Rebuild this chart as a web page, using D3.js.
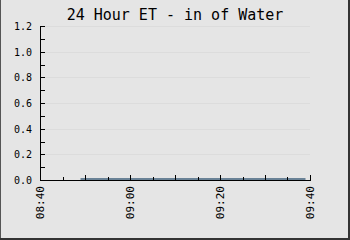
<!DOCTYPE html>
<html><head><meta charset="utf-8">
<script src="https://cdn.jsdelivr.net/npm/d3@7"></script>
<style>body{margin:0;padding:0;background:#fff}svg{display:block}</style>
</head><body>
<svg id="c" width="350" height="240"></svg>
<script>
const title = "24 Hour ET - in of Water";
const times = ["08:49","08:54","08:59","09:04","09:09","09:14","09:19","09:24","09:29","09:34","09:39"];
const etValues = [0,0,0,0,0,0,0,0,0,0,0];
const yTicks = [0.0,0.2,0.4,0.6,0.8,1.0,1.2];
const yMinorTicks = [0.1,0.3,0.5,0.7,0.9,1.1];
const xTickLabels = ["08:40","09:00","09:20","09:40"];
const xMajorTicks = ["08:50","09:00","09:10","09:20","09:30","09:40"];
const xMinorTicks = ["08:45","08:55","09:05","09:15","09:25","09:35"];

(function(){
const parse = d3.timeParse("%H:%M");
const svg = d3.select("#c");
const W = 350, H = 240;
const pl = 40, pr = 310, pt = 26, pb = 180;

svg.append("rect").attr("width", W).attr("height", H).attr("fill", "#e5e5e5");
svg.append("rect").attr("x", 0).attr("y", 0).attr("width", 1).attr("height", H).attr("fill", "#555");
svg.append("rect").attr("x", W-2).attr("y", 0).attr("width", 2).attr("height", H).attr("fill", "#333");
svg.append("rect").attr("x", 0).attr("y", H-2).attr("width", W).attr("height", 2).attr("fill", "#333");

const x = d3.scaleTime().domain([parse("08:40"), parse("09:40")]).range([pl, pr]);
const y = d3.scaleLinear().domain([0, 1.2]).range([pb, pt]);

const font = "'DejaVu Sans Mono', monospace";

svg.append("g").selectAll("line").data(yTicks.filter(d => d > 0)).join("line")
  .attr("x1", pl).attr("x2", pr)
  .attr("y1", d => Math.round(y(d)) + 0.5).attr("y2", d => Math.round(y(d)) + 0.5)
  .attr("stroke", "#dcdcdc").attr("stroke-width", 1);

const line = d3.line().x((d, i) => x(parse(times[i]))).y(d => y(d) - 1);
svg.append("path").datum(etValues).attr("d", line)
  .attr("fill", "none").attr("stroke", "#6a8296").attr("stroke-width", 2);

svg.append("line").attr("x1", pl + 0.5).attr("x2", pl + 0.5).attr("y1", pt).attr("y2", pb + 1)
  .attr("stroke", "#000").attr("stroke-width", 1);
svg.append("line").attr("x1", pl).attr("x2", pr + 1).attr("y1", pb + 0.5).attr("y2", pb + 0.5)
  .attr("stroke", "#000").attr("stroke-width", 1);

svg.append("g").selectAll("line").data(yTicks.concat(yMinorTicks)).join("line")
  .attr("x1", pl).attr("x2", pl + 5)
  .attr("y1", d => Math.round(y(d)) + 0.5).attr("y2", d => Math.round(y(d)) + 0.5)
  .attr("stroke", "#000");
svg.append("g").selectAll("text").data(yTicks).join("text")
  .attr("x", 32).attr("y", d => y(d) + 4)
  .attr("text-anchor", "end").attr("font-family", font).attr("font-size", 10)
  .attr("fill", "#000").text(d => d.toFixed(1));

svg.append("g").selectAll("line").data(xMajorTicks).join("line")
  .attr("x1", d => Math.round(x(parse(d))) + 0.5).attr("x2", d => Math.round(x(parse(d))) + 0.5)
  .attr("y1", pb).attr("y2", pb - 5).attr("stroke", "#000");
svg.append("g").selectAll("line").data(xMinorTicks).join("line")
  .attr("x1", d => Math.round(x(parse(d))) + 0.5).attr("x2", d => Math.round(x(parse(d))) + 0.5)
  .attr("y1", pb).attr("y2", pb - 3).attr("stroke", "#000");
svg.append("g").selectAll("text").data(xTickLabels).join("text")
  .attr("transform", d => `translate(${x(parse(d)) + 4},186) rotate(-90)`)
  .attr("text-anchor", "end").attr("font-family", font).attr("font-size", 11)
  .attr("fill", "#000").text(d => d);

svg.append("text").attr("x", 175).attr("y", 20).attr("text-anchor", "middle")
  .attr("font-family", font).attr("font-size", 15).attr("fill", "#000").text(title);
})();
</script>
</body></html>
